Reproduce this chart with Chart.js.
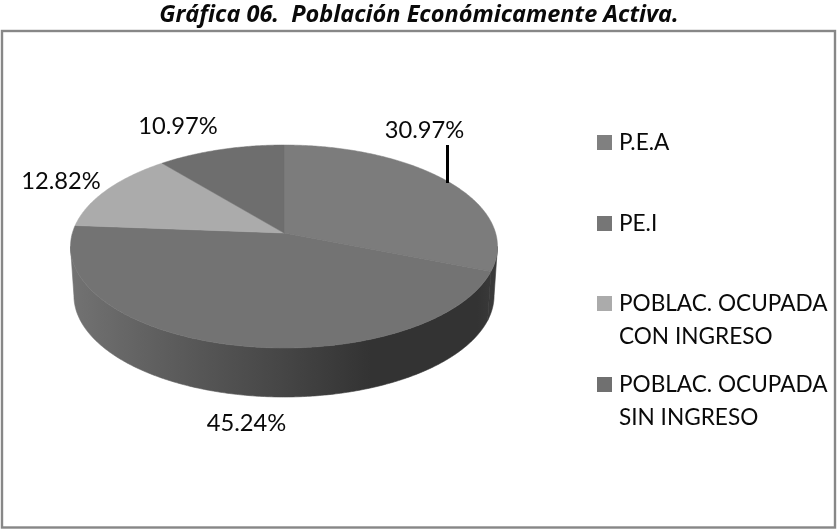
<!DOCTYPE html>
<html><head><meta charset="utf-8">
<style>html,body{margin:0;padding:0;background:#fff}canvas{display:block}</style>
<script src="https://cdn.jsdelivr.net/npm/chart.js@4"></script>
</head><body><canvas id="c" width="837" height="529"></canvas>
<script>
const categories = ['P.E.A', 'PE.I', 'POBLAC. OCUPADA CON INGRESO', 'POBLAC. OCUPADA SIN INGRESO'];
const legendLines = [['P.E.A'], ['PE.I'], ['POBLAC. OCUPADA', 'CON INGRESO'], ['POBLAC. OCUPADA', 'SIN INGRESO']];
const values = [30.97, 45.24, 12.82, 10.97];
const valueLabels = ['30.97%', '45.24%', '12.82%', '10.97%'];
const sliceColors = ['#7c7c7c', '#737373', '#ababab', '#6e6e6e'];
const swatchColors = ['#808080', '#767676', '#ababab', '#707070'];
const titleText = 'Gráfica 06.  Población Económicamente Activa.';

const valueLabelPos = [[424.5, 130], [246.5, 423], [61, 181], [178, 126]];
const legendSwatchY = [135, 216, 296, 377];
const wallStops = [[0, '#727272'], [0.2, '#5f5f5f'], [0.5, '#454545'], [0.7, '#333'], [0.95, '#333'], [1, '#3c3c3c']];

const K = 0.133, TOP_A = 211.6, TOP_B = 99.7, BOT_A = 208.2, BOT_B = 99.7, THICK = 49;
const TEXT = '#0a0a0a';
const FONT = 'Lato, sans-serif';
const WALL_MIN = Math.asin(K), WALL_MAX = Math.PI - Math.asin(K);

function proj(el, a, A, B, dy) {
  const u = Math.cos(a), v = -Math.sin(a), w = 1 + K * v;
  return [el.x + A * u / w, el.y - B * v / w + dy];
}
function arcPts(el, a0, a1, A, B, dy) {
  const n = Math.max(2, Math.ceil((a1 - a0) / 0.01)), pts = [];
  for (let i = 0; i <= n; i++) pts.push(proj(el, a0 + (a1 - a0) * i / n, A, B, dy));
  return pts;
}
function poly(ctx, pts) {
  ctx.beginPath();
  pts.forEach((p, i) => i ? ctx.lineTo(p[0], p[1]) : ctx.moveTo(p[0], p[1]));
  ctx.closePath();
}

const pie3d = {
  id: 'pie3d',
  beforeDraw(chart) {
    const ctx = chart.ctx;
    ctx.save();
    ctx.fillStyle = '#fff';
    ctx.fillRect(0, 0, 837, 529);
    ctx.strokeStyle = '#878787';
    ctx.lineWidth = 2.4;
    ctx.strokeRect(2, 31, 833, 496.5);
    ctx.fillStyle = TEXT;
    ctx.font = "italic bold 23.5px 'Open Sans', sans-serif";
    ctx.textAlign = 'center';
    ctx.textBaseline = 'alphabetic';
    ctx.fillText(titleText, 419, 22);
    ctx.restore();
  },
  beforeDatasetsDraw(chart) {
    const ctx = chart.ctx, els = chart.getDatasetMeta(0).data;
    ctx.save();
    const grad = ctx.createLinearGradient(els[0].x - TOP_A, 0, els[0].x + TOP_A + 3, 0);
    wallStops.forEach(s => grad.addColorStop(s[0], s[1]));
    els.forEach(el => {
      const p = el.getProps(['startAngle', 'endAngle']);
      const a0 = Math.max(p.startAngle, WALL_MIN), a1 = Math.min(p.endAngle, WALL_MAX);
      if (a1 <= a0) return;
      const top = arcPts(el, a0, a1, TOP_A, TOP_B, 0);
      const bot = arcPts(el, a0, a1, BOT_A, BOT_B, THICK).reverse();
      poly(ctx, top.concat(bot));
      ctx.fillStyle = grad;
      ctx.strokeStyle = grad;
      ctx.lineWidth = 0.6;
      ctx.fill();
      ctx.stroke();
    });
    els.forEach((el, i) => {
      const p = el.getProps(['startAngle', 'endAngle']);
      const pts = [[el.x, el.y]].concat(arcPts(el, p.startAngle, p.endAngle, TOP_A, TOP_B, 0));
      poly(ctx, pts);
      ctx.fillStyle = sliceColors[i];
      ctx.strokeStyle = sliceColors[i];
      ctx.lineWidth = 0.5;
      ctx.fill();
      ctx.stroke();
    });
    ctx.restore();
    return false;
  },
  afterDraw(chart) {
    const ctx = chart.ctx;
    ctx.save();
    ctx.strokeStyle = '#000';
    ctx.lineWidth = 3;
    ctx.beginPath();
    ctx.moveTo(447.5, 145);
    ctx.lineTo(447.5, 183);
    ctx.stroke();
    ctx.fillStyle = TEXT;
    ctx.font = '23.7px ' + FONT;
    ctx.textAlign = 'center';
    ctx.textBaseline = 'middle';
    valueLabels.forEach((t, i) => ctx.fillText(t, valueLabelPos[i][0], valueLabelPos[i][1]));
    ctx.textAlign = 'left';
    ctx.font = '22.6px ' + FONT;
    legendLines.forEach((lines, i) => {
      const y = legendSwatchY[i];
      ctx.fillStyle = swatchColors[i];
      ctx.fillRect(597, y, 15, 15);
      ctx.fillStyle = TEXT;
      lines.forEach((l, j) => ctx.fillText(l, 619, y + 8 + j * 33));
    });
    ctx.restore();
  }
};

new Chart(document.getElementById('c'), {
  type: 'pie',
  data: { labels: categories, datasets: [{ data: values, backgroundColor: sliceColors, borderWidth: 0 }] },
  options: {
    responsive: false,
    animation: false,
    layout: { padding: { left: 70.5, right: 339.5, top: 19.5, bottom: 82.5 } },
    plugins: { legend: { display: false }, tooltip: { enabled: false }, title: { display: false } }
  },
  plugins: [pie3d]
});
</script></body></html>
